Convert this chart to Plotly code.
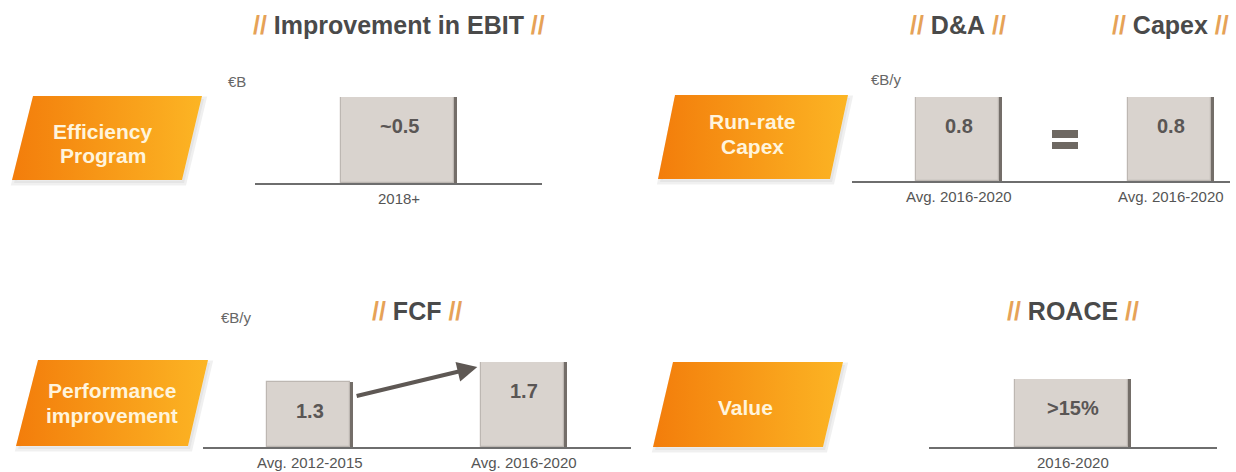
import plotly.graph_objects as go

# ---------------- data ----------------
ebit_cats = ["2018+"]
ebit_vals = [0.5]
ebit_text = ["~0.5"]

da_capex_cats = ["Avg. 2016-2020", "Avg. 2016-2020"]
da_capex_vals = [0.8, 0.8]
da_capex_text = ["0.8", "0.8"]

fcf_cats = ["Avg. 2012-2015", "Avg. 2016-2020"]
fcf_vals = [1.3, 1.7]
fcf_text = ["1.3", "1.7"]

roace_cats = ["2016-2020"]
roace_vals = [15]
roace_text = [">15%"]

lever_labels = [["Efficiency", "Program"], ["Run-rate", "Capex"],
                ["Performance", "improvement"], ["Value"]]
section_titles = ["Improvement in EBIT", "D&A", "Capex", "FCF", "ROACE"]
unit_labels = ["€B", "€B/y", "€B/y"]

# ---------------- layout helpers ----------------
W, H = 1236, 472
FONT = "Liberation Sans, Arial, sans-serif"
BAR_FILL = "#d9d3ce"
BAR_EDGE = "#bdb7b2"
BAR_SHADOW = "#746e69"
AXIS_COL = "#6e6e6e"
VAL_COL = "#5a5655"
LBL_COL = "#555555"
SLASH = "#e6a257"
TITLE_COL = "#4a4a4a"


def px(x):
    return x / W


def py(y):
    return 1 - y / H


fig = go.Figure()

# panel geometry (pixels): axis line extent, baseline y, top y of the scale, first bar centre, px per category
panels = [
    dict(cats=ebit_cats, vals=ebit_vals, text=ebit_text, x0=255, x1=542, base=183, top=97, c0=399, step=290),
    dict(cats=da_capex_cats, vals=da_capex_vals, text=da_capex_text, x0=852, x1=1230, base=181, top=97, c0=958.5, step=212),
    dict(cats=fcf_cats, vals=fcf_vals, text=fcf_text, x0=203, x1=631, base=447, top=362, c0=310, step=213.5),
    dict(cats=roace_cats, vals=roace_vals, text=roace_text, x0=929, x1=1217, base=447, top=379, c0=1073, step=290),
]
BAR_W_PX = [116, 86, 86, 116]
SHADOW_PX = 3

annotations = []
layout_axes = {}
for i, p in enumerate(panels):
    k = "" if i == 0 else str(i + 1)
    idx = list(range(len(p["cats"])))
    bw = BAR_W_PX[i] / p["step"]
    s = SHADOW_PX / p["step"]
    # dark bevel / shadow on the right side
    fig.add_trace(go.Bar(
        x=idx, y=p["vals"], width=bw - s, offset=-bw / 2 + s,
        marker=dict(color=BAR_SHADOW, line=dict(width=0)),
        xaxis="x" + k, yaxis="y" + k, hoverinfo="skip", showlegend=False,
    ))
    # main face of the bar
    fig.add_trace(go.Bar(
        x=idx, y=p["vals"], width=bw - s, offset=-bw / 2,
        marker=dict(color=BAR_FILL, line=dict(color=BAR_EDGE, width=1.2)),
        xaxis="x" + k, yaxis="y" + k, hoverinfo="skip", showlegend=False,
    ))
    xr = [(p["x0"] - p["c0"]) / p["step"], (p["x1"] - p["c0"]) / p["step"]]
    layout_axes["xaxis" + k] = dict(
        domain=[px(p["x0"]), px(p["x1"])], range=xr, anchor="y" + k,
        showline=True, linecolor=AXIS_COL, linewidth=1.5, showgrid=False, zeroline=False,
        showticklabels=False, ticks="", fixedrange=True,
    )
    layout_axes["yaxis" + k] = dict(
        domain=[py(p["base"]), py(p["top"])], range=[0, max(p["vals"])], anchor="x" + k,
        visible=False, fixedrange=True,
    )
    for j, (v, t, c) in enumerate(zip(p["vals"], p["text"], p["cats"])):
        annotations.append(dict(
            x=j, y=v, xref="x" + k, yref="y" + k, text="<b>%s</b>" % t, showarrow=False,
            yshift=-29, font=dict(family=FONT, size=20, color=VAL_COL),
        ))
        # category label under the axis line
        annotations.append(dict(
            x=j, y=0, xref="x" + k, yref="y" + k, text=c, showarrow=False,
            yanchor="middle", yshift=-15, font=dict(family=FONT, size=15, color=LBL_COL),
        ))

# FCF arrow between the two bars (in FCF data coordinates)
bw3 = BAR_W_PX[2] / panels[2]["step"]
annotations.append(dict(
    x=1 - bw3 / 2 - 0.015, y=fcf_vals[1] * 0.94, xref="x3", yref="y3",
    ax=bw3 / 2 + 0.01, ay=fcf_vals[0] * 0.78, axref="x3", ayref="y3",
    showarrow=True, arrowhead=2, arrowsize=1, arrowwidth=4, arrowcolor="#5e5854", text="",
))

# lever parallelograms (overlay axis in pixel space)
para = [
    ((33, 96), (202, 96), (182, 180), (12, 180)),
    ((675, 95), (848, 95), (830, 179), (658, 179)),
    ((38, 360), (208, 360), (188, 446), (16, 446)),
    ((673, 362), (843, 362), (823, 447), (653, 447)),
]
lever_text_pos = [
    [(103, 132), (103, 155)],
    [(752, 122), (752, 147)],
    [(112, 390), (112, 415)],
    [(745, 407)],
]
for poly, labels, poss in zip(para, lever_labels, lever_text_pos):
    xs = [pt[0] for pt in poly] + [poly[0][0]]
    ys = [pt[1] for pt in poly] + [poly[0][1]]
    # soft shadow
    fig.add_trace(go.Scatter(
        x=[v + 2 for v in xs], y=[v + 3 for v in ys], fill="toself", mode="lines",
        line=dict(width=5, color="rgba(205,205,205,0.3)"), fillcolor="rgba(205,205,205,0.3)",
        xaxis="x5", yaxis="y5", hoverinfo="skip", showlegend=False,
    ))
    fig.add_trace(go.Scatter(
        x=xs, y=ys, fill="toself", mode="lines", line=dict(width=0, color="#f7981a"),
        fillgradient=dict(type="horizontal", colorscale=[[0, "#f37d0b"], [1, "#fcb524"]]),
        xaxis="x5", yaxis="y5", hoverinfo="skip", showlegend=False,
    ))
    for lab, (lx, ly) in zip(labels, poss):
        annotations.append(dict(
            x=px(lx), y=py(ly), xref="paper", yref="paper", text="<b>%s</b>" % lab,
            showarrow=False, xanchor="center", yanchor="middle",
            font=dict(family=FONT, size=21, color="#fff4dc"),
        ))

layout_axes["xaxis5"] = dict(domain=[0, 1], range=[0, W], anchor="y5", visible=False, fixedrange=True)
layout_axes["yaxis5"] = dict(domain=[0, 1], range=[H, 0], anchor="x5", visible=False, fixedrange=True)

# section titles
title_pos = [(399, 25), (958, 25), (1170, 25), (417, 311), (1073, 311)]
for t, (tx, ty) in zip(section_titles, title_pos):
    annotations.append(dict(
        x=px(tx), y=py(ty), xref="paper", yref="paper", showarrow=False,
        xanchor="center", yanchor="middle",
        text="<span style='color:%s'><b>//</b></span> <b>%s</b> <span style='color:%s'><b>//</b></span>" % (SLASH, t, SLASH),
        font=dict(family=FONT, size=25, color=TITLE_COL),
    ))

# unit labels
unit_pos = [(237, 81), (886, 79), (236, 317)]
for u, (ux, uy) in zip(unit_labels, unit_pos):
    annotations.append(dict(
        x=px(ux), y=py(uy), xref="paper", yref="paper", text=u, showarrow=False,
        xanchor="center", yanchor="middle", font=dict(family=FONT, size=15, color="#666666"),
    ))

# "=" sign between D&A and Capex
shapes = []
for (y0, y1) in [(130, 138), (142, 149)]:
    shapes.append(dict(type="rect", xref="paper", yref="paper",
                       x0=px(1052), x1=px(1078), y0=py(y1), y1=py(y0),
                       fillcolor="#6e6862", line=dict(width=0), layer="above"))

fig.update_layout(
    width=W, height=H, margin=dict(l=0, r=0, t=0, b=0),
    paper_bgcolor="white", plot_bgcolor="rgba(0,0,0,0)",
    showlegend=False, annotations=annotations, shapes=shapes,
    font=dict(family=FONT), barmode="overlay", bargap=0,
    **layout_axes,
)

fig.write_html(
    "out.html",
    config={"displayModeBar": False},
    post_script="document.body.style.margin='0';document.body.style.overflow='hidden';",
)
